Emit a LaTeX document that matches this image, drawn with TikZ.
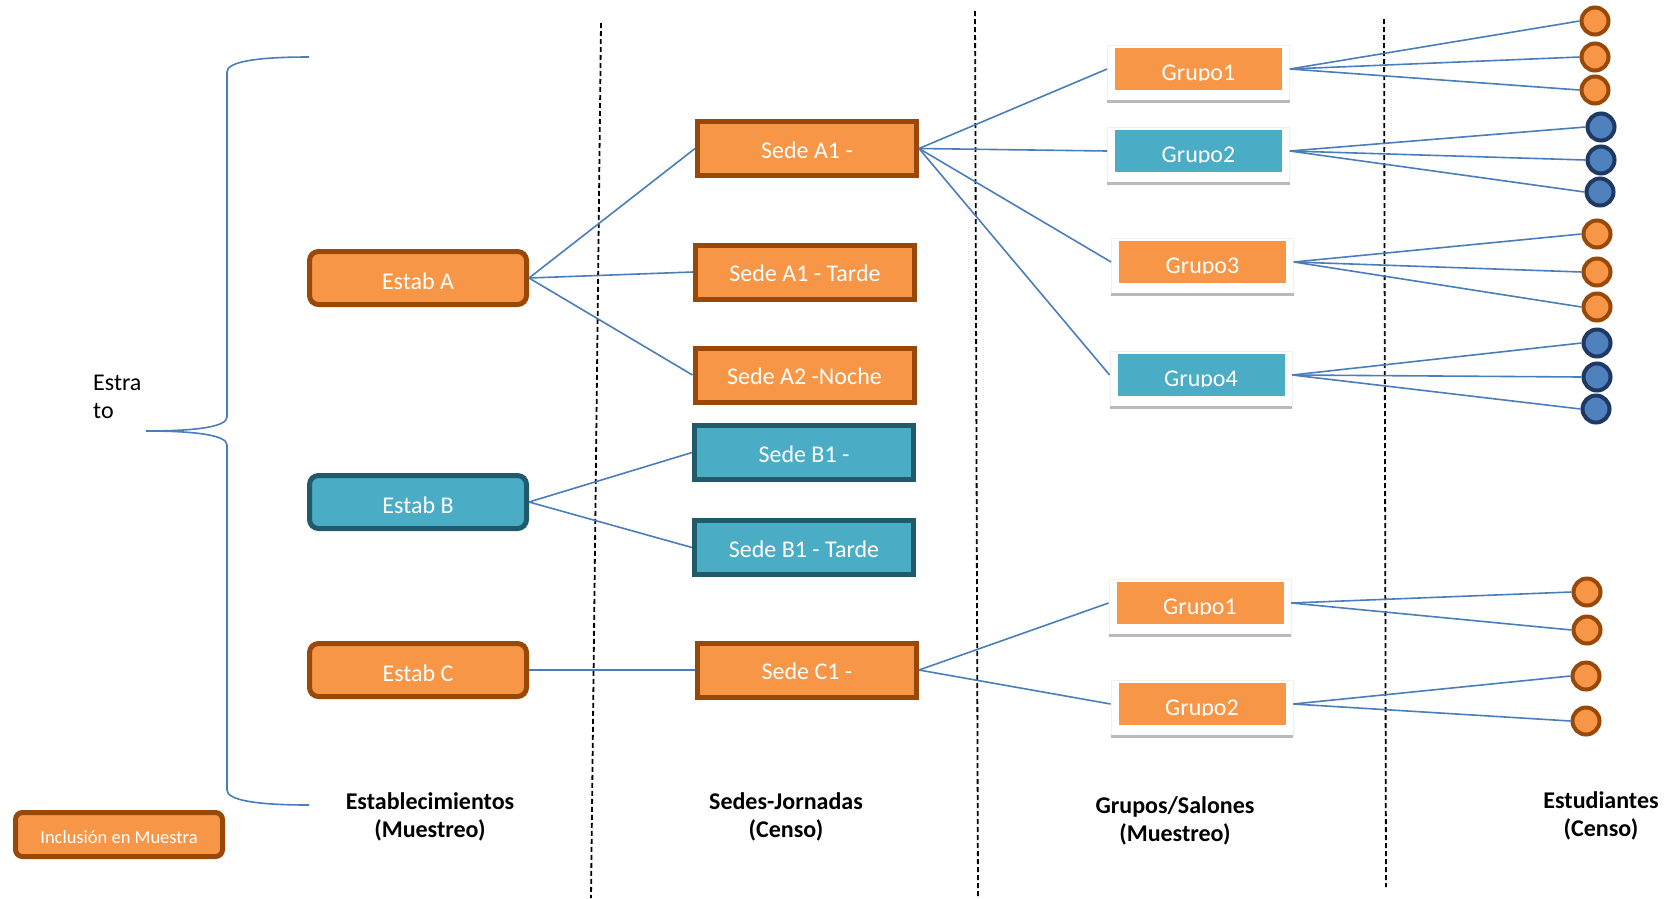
\documentclass[tikz,border=0pt]{standalone}
\usepackage{fontspec}
\setmainfont{Carlito}
\definecolor{orf}{HTML}{F79646}
\definecolor{orb}{HTML}{984807}
\definecolor{blf}{HTML}{4BACC6}
\definecolor{blb}{HTML}{215A69}
\definecolor{cbf}{HTML}{4F81BD}
\definecolor{cbb}{HTML}{1F3864}
\definecolor{linkc}{HTML}{4A7EBB}
\newcommand\bigf{\fontsize{24}{28}\selectfont}
\newcommand\grupo[5]{%
  \node[card] (#1) at (#2,#3+4) {};
  \draw[gray!55, line width=3pt] (#1.south west) -- (#1.south east);
  \node[grect, fill=#4] (#1r) at (#2,#3) {};
  \begin{scope}
    \clip (#2-90,#3-21) rectangle (#2+90,#3+11.5);
    \node[anchor=base, text=white, font=\bigf, inner sep=0] at (#2,#3+11) {#5};
  \end{scope}}
\begin{document}
\begin{tikzpicture}[x=1pt,y=-1pt,
  estabbox/.style={draw=orb, fill=orf, line width=5pt, rounded corners=9pt,
    minimum width=217pt, minimum height=53pt, inner sep=0, text=white, font=\bigf,
    text height=22pt, text depth=0pt},
  estabblue/.style={estabbox, draw=blb, fill=blf},
  sedebox/.style={draw=orb, fill=orf, line width=5pt,
    minimum width=219pt, minimum height=54pt, inner sep=0, text=white, font=\bigf,
    text height=19pt, text depth=0pt},
  sedeblue/.style={sedebox, draw=blb, fill=blf},
  card/.style={fill=white, draw=gray!12, line width=0.8pt, minimum width=182pt,
    minimum height=56pt, inner sep=0},
  grect/.style={minimum width=167pt, minimum height=42pt, inner sep=0},
  stuo/.style={circle, draw=orb, fill=orf, line width=4pt, minimum size=27pt, inner sep=0},
  stub/.style={stuo, draw=cbb, fill=cbf},
  link/.style={draw=linkc, line width=1.6pt},
  sepline/.style={draw=black, line width=1.8pt, dash pattern=on 5pt off 3pt},
  heading/.style={font=\bigf\bfseries, align=center, inner sep=0}]
\useasboundingbox (0,0) rectangle (1673,898);

% separators
\coordinate (s1t) at (601,23);  \coordinate (s1b) at (591,898);
\coordinate (s2t) at (975,11);  \coordinate (s2b) at (978,898);
\coordinate (s3t) at (1384,19); \coordinate (s3b) at (1386,887);
\draw[sepline] (s1t) -- (s1b);
\draw[sepline] (s2t) -- (s2b);
\draw[sepline] (s3t) -- (s3b);

% brace
\coordinate (bt) at (309,57);
\coordinate (bm) at (146,431);
\coordinate (bb) at (309,805);
\draw[link] (bt) .. controls (255,57) and (227,62) .. (227,72) -- (227,417)
  .. controls (227,427) and (195,431) .. (bm)
  .. controls (195,431) and (227,435) .. (227,445) -- (227,790)
  .. controls (227,800) and (255,805) .. (bb);
\node[anchor=north west, align=left, font=\bigf, inner sep=0] (estrato) at (93,375) {Estra\\to};

% establecimientos
\node[estabbox]  (ea) at (418,278) {Estab A};
\node[estabblue] (eb) at (418,502) {Estab B};
\node[estabbox]  (ec) at (418,670) {Estab C};

% sedes
\node[sedebox]  (sa1)  at (807,148.5) {Sede A1 -};
\node[sedebox]  (sa1t) at (805,272)   {Sede A1 - Tarde};
\node[sedebox]  (sa2)  at (804.5,375) {Sede A2 -Noche};
\node[sedeblue] (sb1)  at (804,452.5) {Sede B1 -};
\node[sedeblue] (sb1t) at (804,547.5) {Sede B1 - Tarde};
\node[sedebox]  (sc1)  at (807,670)   {Sede C1 -};

% grupos
\grupo{g1}{1198.5}{69}{orf}{Grupo1}
\grupo{g2}{1198.5}{151}{blf}{Grupo2}
\grupo{g3}{1202.5}{262}{orf}{Grupo3}
\grupo{g4}{1201}{375}{blf}{Grupo4}
\grupo{g5}{1200}{603}{orf}{Grupo1}
\grupo{g6}{1202}{704}{orf}{Grupo2}

% estudiantes
\node[stuo] (c1)  at (1595,21)  {};
\node[stuo] (c2)  at (1595,57)  {};
\node[stuo] (c3)  at (1595,90)  {};
\node[stub] (c4)  at (1601,127) {};
\node[stub] (c5)  at (1601,160) {};
\node[stub] (c6)  at (1600,192) {};
\node[stuo] (c7)  at (1597,234) {};
\node[stuo] (c8)  at (1597,272) {};
\node[stuo] (c9)  at (1597,307) {};
\node[stub] (c10) at (1597,343) {};
\node[stub] (c11) at (1597,377) {};
\node[stub] (c12) at (1596,409) {};
\node[stuo] (d1)  at (1587,592) {};
\node[stuo] (d2)  at (1587,630) {};
\node[stuo] (d3)  at (1586,676) {};
\node[stuo] (d4)  at (1586,721) {};

% connectors establecimiento -> sede
\draw[link] (ea.east) -- (sa1.west);
\draw[link] (ea.east) -- (sa1t.west);
\draw[link] (ea.east) -- (sa2.west);
\draw[link] (eb.east) -- (sb1.west);
\draw[link] (eb.east) -- (sb1t.west);
\draw[link] (ec.east) -- (sc1.west);

% sede -> grupo
\foreach \g in {g1,g2,g3,g4}
  \draw[link] (sa1.east) -- (\g r.center -| \g.west);
\foreach \g in {g5,g6}
  \draw[link] (sc1.east) -- (\g r.center -| \g.west);

% grupo -> estudiante
\foreach \g/\c in {g1/c1,g1/c2,g1/c3,g2/c4,g2/c5,g2/c6,g3/c7,g3/c8,g3/c9,
                   g4/c10,g4/c11,g4/c12,g5/d1,g5/d2,g6/d3,g6/d4}
  \draw[link] (\g r.center -| \g.east) -- (\c.west);

% headings
\node[heading] (h1) at (430,817) {Establecimientos\\(Muestreo)};
\node[heading] (h2) at (786,817) {Sedes-Jornadas\\(Censo)};
\node[heading] (h3) at (1175,821) {Grupos/Salones\\(Muestreo)};
\node[heading] (h4) at (1601,816) {Estudiantes\\(Censo)};

% legend
\node[draw=orb, fill=orf, line width=5pt, rounded corners=7pt, minimum width=207pt,
  minimum height=44pt, inner sep=0, text=white, font=\fontsize{18.5}{22}\selectfont,
  text height=17pt, text depth=0pt]
  (leg) at (119,834.5) {Inclusión en Muestra};
\end{tikzpicture}
\end{document}
